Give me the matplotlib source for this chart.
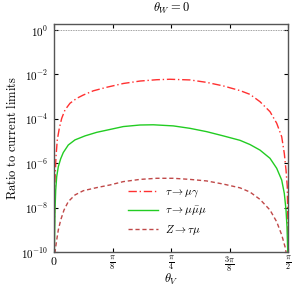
import numpy as np
import matplotlib
matplotlib.use("Agg")
import matplotlib.pyplot as plt

plt.rcParams['mathtext.fontset'] = 'cm'
plt.rcParams['font.family'] = 'serif'
plt.rcParams['font.serif'] = ['DejaVu Serif']

# theta_V as fraction of pi/2, values as log10(ratio)
x_red = [0.0, 0.0013, 0.0043, 0.0085, 0.0141, 0.0226, 0.0329, 0.0470, 0.0684,
         0.0970, 0.1252, 0.168, 0.2252, 0.2962, 0.3675, 0.4389, 0.4957, 0.5812,
         0.6526, 0.7235, 0.7949, 0.8376, 0.8803, 0.9231, 0.9517, 0.9731,
         0.9842, 0.9915, 0.9970, 0.9991, 1.0]
y_red = [-11, -9.0, -6.76, -5.71, -4.95, -4.43, -3.98, -3.60, -3.30,
         -3.08, -2.93, -2.74, -2.58, -2.41, -2.30, -2.24, -2.22, -2.25,
         -2.36, -2.52, -2.73, -2.90, -3.23, -3.68, -4.20, -4.81,
         -5.56, -6.31, -7.06, -8.5, -11]

x_green = [0.0, 0.0030, 0.0043, 0.0073, 0.0115, 0.0184, 0.0286, 0.0397, 0.0611,
           0.0897, 0.1325, 0.1825, 0.2308, 0.2962, 0.3675, 0.4244, 0.5098,
           0.5812, 0.6526, 0.7235, 0.7949, 0.8376, 0.8803, 0.9231, 0.9517,
           0.9731, 0.9842, 0.9915, 0.9957, 0.9987, 1.0]
y_green = [-11, -9.0, -8.11, -7.21, -6.61, -6.16, -5.80, -5.52, -5.18,
           -4.95, -4.77, -4.61, -4.50, -4.35, -4.28, -4.27, -4.32,
           -4.43, -4.58, -4.77, -4.97, -5.16, -5.41, -5.78, -6.23,
           -6.76, -7.36, -8.11, -8.86, -9.9, -11]

x_brown = [0.0, 0.0043, 0.0115, 0.0184, 0.0286, 0.0427, 0.0611, 0.0897, 0.1252,
           0.1825, 0.2393, 0.2962, 0.3675, 0.4389, 0.5098, 0.5812, 0.6526,
           0.7235, 0.7949, 0.8376, 0.8803, 0.9231, 0.9517, 0.9731, 0.9872,
           0.9936, 1.0]
y_brown = [-12, -10.0, -9.46, -9.01, -8.56, -8.11, -7.73, -7.43, -7.24,
           -7.10, -6.98, -6.83, -6.73, -6.68, -6.68, -6.73, -6.80,
           -6.94, -7.11, -7.30, -7.63, -8.11, -8.64, -9.23, -9.76,
           -10.1, -12]

labels = [r'$\tau\to\mu\gamma$', r'$\tau\to\mu\bar{\mu}\mu$', r'$Z\to\tau\mu$']
xticks = [0, np.pi/8, np.pi/4, 3*np.pi/8, np.pi/2]
xticklabels = ['$0$', r'$\frac{\pi}{8}$', r'$\frac{\pi}{4}$', r'$\frac{3\pi}{8}$', r'$\frac{\pi}{2}$']

fig = plt.figure(figsize=(2.92, 2.87), dpi=100)
ax = fig.add_axes([54/292, 1-252/287, 234/292, 228/287])

def th(xs):
    return np.array(xs) * np.pi / 2

ax.axhline(1.0, color='gray', lw=0.6, ls=(0, (1, 1)))
ax.plot(th(x_red), 10**np.array(y_red), color='#ff3030', lw=1.0,
        ls=(0, (6, 2, 1, 2)), label=labels[0])
ax.plot(th(x_green), 10**np.array(y_green), color='#22cc22', lw=1.0,
        label=labels[1])
ax.plot(th(x_brown), 10**np.array(y_brown), color='#c04848', lw=1.0,
        ls=(0, (3, 2)), label=labels[2])

ax.set_yscale('log')
ax.set_ylim(1e-10, 1.86)
ax.set_xlim(0, np.pi/2)
ax.set_yticks([1e-10, 1e-8, 1e-6, 1e-4, 1e-2, 1e0])
ax.set_yticklabels([r'$10^{-10}$', r'$10^{-8}$', r'$10^{-6}$', r'$10^{-4}$', r'$10^{-2}$', r'$10^{0}$'])
ax.set_xticks(xticks)
ax.set_xticklabels(xticklabels)
ax.tick_params(which='both', direction='in', top=True, right=True, labelsize=8, pad=4)
ax.tick_params(which='major', length=3)
ax.tick_params(which='minor', length=1.5)
ax.tick_params(axis='x', labelsize=8.5, pad=2)
for s in ax.spines.values():
    s.set_color('#555555')
    s.set_linewidth(1.0)

ax.set_title(r'$\theta_W = 0$', fontsize=9, pad=9)
ax.set_xlabel(r'$\theta_V$', fontsize=9)
ax.xaxis.set_label_coords(0.5, -0.088)
ax.set_ylabel(r'$\mathrm{Ratio\ to\ current\ limits}$', fontsize=9, labelpad=2)

ax.legend(loc='upper left', bbox_to_anchor=(0.316, 0.285), frameon=False,
          fontsize=8, handlelength=2.7, handletextpad=0.6, labelspacing=0.45,
          borderpad=0, borderaxespad=0)

fig.savefig('out.png', dpi=100)
